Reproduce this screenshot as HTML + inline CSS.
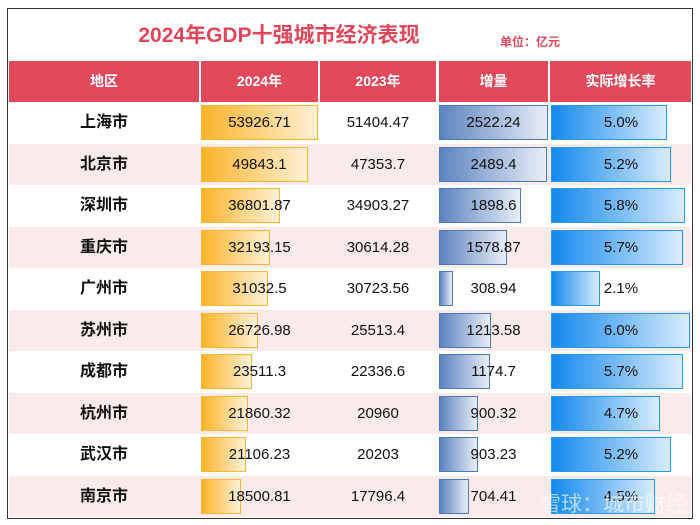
<!DOCTYPE html>
<html><head><meta charset="utf-8"><style>
*{margin:0;padding:0;box-sizing:border-box}
body{width:700px;height:525px;background:#fff;position:relative;overflow:hidden;font-family:"Liberation Sans","Noto Sans CJK SC",sans-serif}
#frame{position:absolute;left:7px;top:8px;width:686px;height:511px;border:1.5px solid #333}
.title{position:absolute;left:0;width:558px;top:19px;text-align:center;font-size:21px;font-weight:bold;color:#e0475a}
.unit{position:absolute;left:500px;top:33px;font-size:12px;font-weight:bold;color:#e0475a}
.hd{position:absolute;top:61px;height:41px;background:#e24a5c;color:#fff;font-weight:bold;font-size:14px;line-height:41px;text-align:center}
.row{position:absolute;left:9px;width:682px;height:41.5px}
.pk{background:#fbeaea}
.c{position:absolute;top:0;height:41.5px;line-height:41.5px;text-align:center;font-size:15px;color:#111;z-index:2}
.r{left:0;width:190px;font-weight:bold;font-size:16px}
.a{left:192px;width:117px}.b{left:311px;width:116px}.d{left:430px;width:109px}.e{left:542px;width:140px}
.bar{position:absolute;top:3px;height:35px;z-index:1}
.o{left:192px;background:linear-gradient(90deg,#fbb42a,#fff0d6);border:1.5px solid #f6b636}
.g{left:430px;background:linear-gradient(90deg,#5c83bf,#e8eef7);border:1.5px solid #4d79b6}
.u{left:542px;background:linear-gradient(90deg,#1389ee,#d9ecfd);border:1.5px solid #2a97f0}
</style></head><body>
<div id="frame"></div>
<div class="title">2024年GDP十强城市经济表现</div>
<div class="unit">单位：亿元</div>
<div class="hd" style="left:9px;width:190px">地区</div>
<div class="hd" style="left:201px;width:117px">2024年</div>
<div class="hd" style="left:320px;width:116px">2023年</div>
<div class="hd" style="left:439px;width:109px">增量</div>
<div class="hd" style="left:550px;width:141px">实际增长率</div>

<div class="row" style="top:102px"><div class="bar o" style="width:117px"></div><div class="bar g" style="width:109px"></div><div class="bar u" style="width:116px"></div>
<div class="c r">上海市</div><div class="c a">53926.71</div><div class="c b">51404.47</div><div class="c d">2522.24</div><div class="c e">5.0%</div></div>
<div class="row pk" style="top:143.5px"><div class="bar o" style="width:107px"></div><div class="bar g" style="width:108px"></div><div class="bar u" style="width:120px"></div>
<div class="c r">北京市</div><div class="c a">49843.1</div><div class="c b">47353.7</div><div class="c d">2489.4</div><div class="c e">5.2%</div></div>
<div class="row" style="top:185px"><div class="bar o" style="width:79px"></div><div class="bar g" style="width:82px"></div><div class="bar u" style="width:134px"></div>
<div class="c r">深圳市</div><div class="c a">36801.87</div><div class="c b">34903.27</div><div class="c d">1898.6</div><div class="c e">5.8%</div></div>
<div class="row pk" style="top:226.5px"><div class="bar o" style="width:69px"></div><div class="bar g" style="width:68px"></div><div class="bar u" style="width:132px"></div>
<div class="c r">重庆市</div><div class="c a">32193.15</div><div class="c b">30614.28</div><div class="c d">1578.87</div><div class="c e">5.7%</div></div>
<div class="row" style="top:268px"><div class="bar o" style="width:67px"></div><div class="bar g" style="width:14px"></div><div class="bar u" style="width:49px"></div>
<div class="c r">广州市</div><div class="c a">31032.5</div><div class="c b">30723.56</div><div class="c d">308.94</div><div class="c e">2.1%</div></div>
<div class="row pk" style="top:309.5px"><div class="bar o" style="width:57px"></div><div class="bar g" style="width:52px"></div><div class="bar u" style="width:139px"></div>
<div class="c r">苏州市</div><div class="c a">26726.98</div><div class="c b">25513.4</div><div class="c d">1213.58</div><div class="c e">6.0%</div></div>
<div class="row" style="top:351px"><div class="bar o" style="width:51px"></div><div class="bar g" style="width:51px"></div><div class="bar u" style="width:132px"></div>
<div class="c r">成都市</div><div class="c a">23511.3</div><div class="c b">22336.6</div><div class="c d">1174.7</div><div class="c e">5.7%</div></div>
<div class="row pk" style="top:392.5px"><div class="bar o" style="width:47px"></div><div class="bar g" style="width:39px"></div><div class="bar u" style="width:109px"></div>
<div class="c r">杭州市</div><div class="c a">21860.32</div><div class="c b">20960</div><div class="c d">900.32</div><div class="c e">4.7%</div></div>
<div class="row" style="top:434px"><div class="bar o" style="width:45px"></div><div class="bar g" style="width:39px"></div><div class="bar u" style="width:120px"></div>
<div class="c r">武汉市</div><div class="c a">21106.23</div><div class="c b">20203</div><div class="c d">903.23</div><div class="c e">5.2%</div></div>
<div class="row pk" style="top:475.5px"><div class="bar o" style="width:40px"></div><div class="bar g" style="width:30px"></div><div class="bar u" style="width:104px"></div>
<div class="c r">南京市</div><div class="c a">18500.81</div><div class="c b">17796.4</div><div class="c d">704.41</div><div class="c e">4.5%</div></div>
<div style="position:absolute;left:540px;top:488px;font-size:21px;color:rgba(255,255,255,0.6);z-index:5">雪球：城市财经</div>
</body></html>
